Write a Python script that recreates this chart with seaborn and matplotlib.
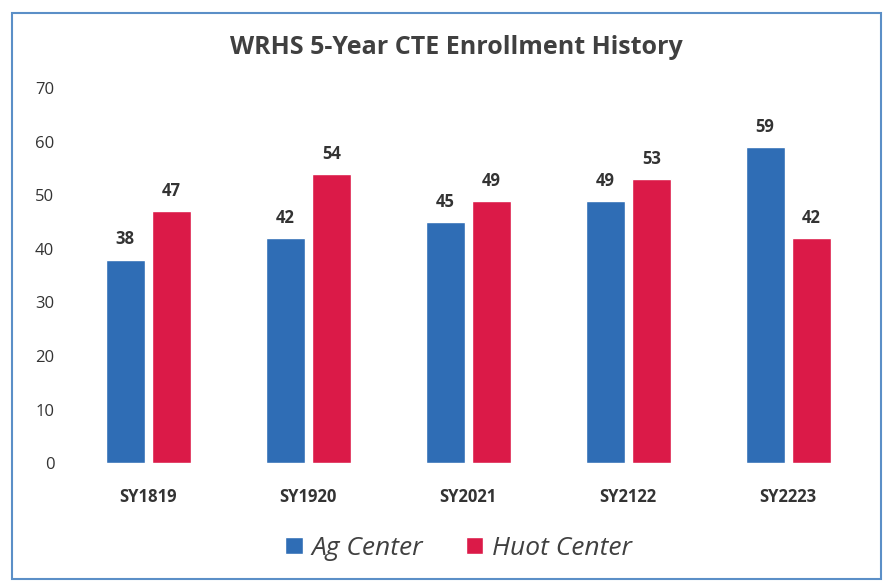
import pandas as pd
import matplotlib.pyplot as plt
import seaborn as sns
from matplotlib.patches import Rectangle

# data
years = ["SY1819", "SY1920", "SY2021", "SY2122", "SY2223"]
ag_center = [38, 42, 45, 49, 59]
huot_center = [47, 54, 49, 53, 42]
centers = ["Ag Center", "Huot Center"]
colors = ["#2F6DB5", "#DB1A48"]

df = pd.DataFrame({
    "Year": years * 2,
    "Enrollment": ag_center + huot_center,
    "Center": [centers[0]] * len(years) + [centers[1]] * len(years),
})

sns.set_style("white")
plt.rcParams['font.family'] = ['Open Sans', 'DejaVu Sans']

fig = plt.figure(figsize=(8.86, 5.84), dpi=100)
ax = fig.add_axes([0.077, 0.207, 0.903, 0.642])

sns.barplot(data=df, x="Year", y="Enrollment", hue="Center", palette=colors,
            width=0.58, gap=0.16, ax=ax, saturation=1)

for c in ax.containers:
    ax.bar_label(c, padding=8, fontsize=12, fontweight='bold', color='#333333')

ax.set_ylim(0, 70)
ax.set_xlim(-0.5, 4.5)
ax.set_yticks(range(0, 71, 10))
ax.set_xlabel("")
ax.set_ylabel("")
ax.tick_params(axis='y', labelsize=12, colors='#333333', length=0, pad=10)
ax.tick_params(axis='x', labelsize=12, colors='#333333', length=0, pad=18)
for lbl in ax.get_xticklabels():
    lbl.set_fontweight('bold')
sns.despine(ax=ax, left=True, bottom=True)

fig.suptitle("WRHS 5-Year CTE Enrollment History", x=0.515, y=0.94,
             fontsize=18, fontweight='bold', color='#404040')

ax.legend(loc='upper center', bbox_to_anchor=(0.488, -0.13), ncol=2,
          frameon=False, handlelength=0.65, handleheight=0.65,
          columnspacing=1.6, handletextpad=0.35,
          prop={'style': 'italic', 'size': 19})
for t in ax.get_legend().get_texts():
    t.set_color('#404040')

# outer chart frame
fig.patches.append(Rectangle((0.014, 0.008), 0.98, 0.97, transform=fig.transFigure,
                             fill=False, edgecolor='#5B8FC7', linewidth=1.5))

plt.savefig("out.png", dpi=100)
